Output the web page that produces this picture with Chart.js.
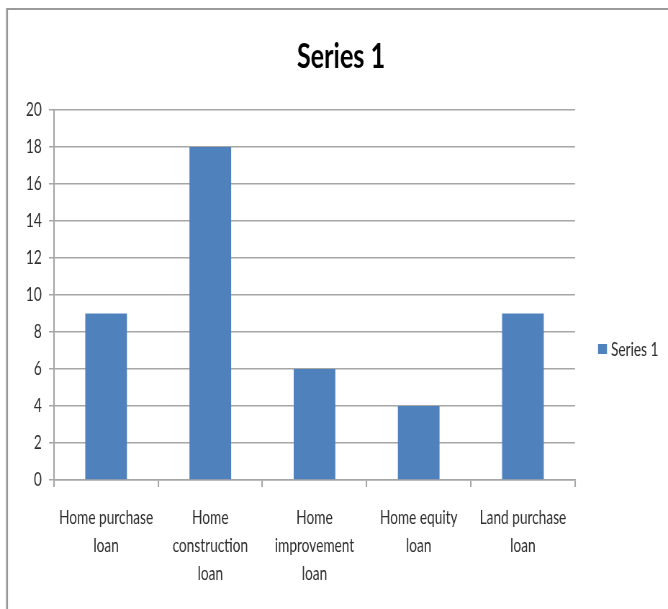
<!DOCTYPE html>
<html>
<head>
<meta charset="utf-8">
<script src="https://cdn.jsdelivr.net/npm/chart.js@4.4.1/dist/chart.umd.min.js"></script>
<style>
  html, body { margin: 0; padding: 0; background: #fff; overflow: hidden; }
  #wrap { position: relative; width: 668px; height: 609px; }
  canvas { display: block; }
</style>
</head>
<body>
<div id="wrap"><canvas id="c" width="928" height="609" style="width:668px;height:609px"></canvas></div>
<script>
// Loan types and counts
const categories = [
  ['Home purchase', 'loan'],
  ['Home', 'construction', 'loan'],
  ['Home', 'improvement', 'loan'],
  ['Home equity', 'loan'],
  ['Land purchase', 'loan']
];
const seriesName = 'Series 1';
const seriesValues = [9, 18, 6, 4, 9];
const yTicks = [0, 2, 4, 6, 8, 10, 12, 14, 16, 18, 20];

// The canvas is drawn 928 units wide and shown 668px wide (narrow look).
const SX = 668 / 928;
const FONT = "Lato, 'Open Sans', sans-serif";
const BAR = '#4f81bd';
const GRID = '#a6a6a6';
const TEXT = '#2e2e2e';

// Frame, centred title and legend entry
const framePlugin = {
  id: 'frame',
  beforeDraw(chart) {
    const ctx = chart.ctx;
    ctx.save();
    ctx.strokeStyle = '#9a9a9a';
    ctx.lineWidth = 2 / SX;
    ctx.beginPath();
    ctx.moveTo(7 / SX, 609);
    ctx.lineTo(7 / SX, 10);
    ctx.stroke();
    ctx.lineWidth = 2;
    ctx.beginPath();
    ctx.moveTo(6 / SX, 9);
    ctx.lineTo(chart.width, 9);
    ctx.stroke();
    ctx.restore();
  },
  afterDraw(chart) {
    const ctx = chart.ctx;
    const ds = chart.data.datasets[0];
    ctx.save();
    // title
    ctx.fillStyle = '#000';
    ctx.font = 'bold 35px ' + FONT;
    ctx.textAlign = 'center';
    ctx.textBaseline = 'middle';
    ctx.fillText(seriesName, 341 / SX, 57);
    // legend
    const x = 598 / SX, y = 349;
    ctx.fillStyle = ds.backgroundColor;
    ctx.fillRect(x, y - 5, 9 / SX, 10);
    ctx.fillStyle = TEXT;
    ctx.font = '19px ' + FONT;
    ctx.textAlign = 'left';
    ctx.fillText(ds.label, x + 13 / SX, y + 1);
    ctx.restore();
  }
};

new Chart(document.getElementById('c'), {
  type: 'bar',
  data: {
    labels: categories,
    datasets: [{
      label: seriesName,
      data: seriesValues,
      backgroundColor: BAR,
      borderWidth: 0,
      barPercentage: 0.4,
      categoryPercentage: 1.0
    }]
  },
  options: {
    responsive: false,
    animation: false,
    devicePixelRatio: 1,
    layout: { padding: { left: 0, right: 928 - 575 / SX, top: 110, bottom: 0 } },
    plugins: {
      legend: { display: false },
      tooltip: { enabled: false },
      title: { display: false }
    },
    scales: {
      x: {
        offset: true,
        grid: {
          display: true,
          drawOnChartArea: false,
          offset: true,
          color: GRID,
          lineWidth: 1.5 / SX,
          tickLength: 7
        },
        border: { display: true, color: GRID, width: 1.5 },
        ticks: {
          color: TEXT,
          font: { family: FONT, size: 19, lineHeight: 1.47 },
          padding: 17,
          maxRotation: 0,
          autoSkip: false
        },
        afterFit(scale) { scale.height = 129; }
      },
      y: {
        min: 0,
        max: 20,
        afterBuildTicks(scale) { scale.ticks = yTicks.map(v => ({ value: v })); },
        grid: { color: GRID, lineWidth: 1.5, tickLength: 7 },
        border: { display: true, color: GRID, width: 1.5 / SX },
        ticks: {
          color: TEXT,
          font: { family: FONT, size: 19 },
          padding: 10
        },
        afterFit(scale) { scale.width = 54 / SX; }
      }
    }
  },
  plugins: [framePlugin]
});
</script>
</body>
</html>
